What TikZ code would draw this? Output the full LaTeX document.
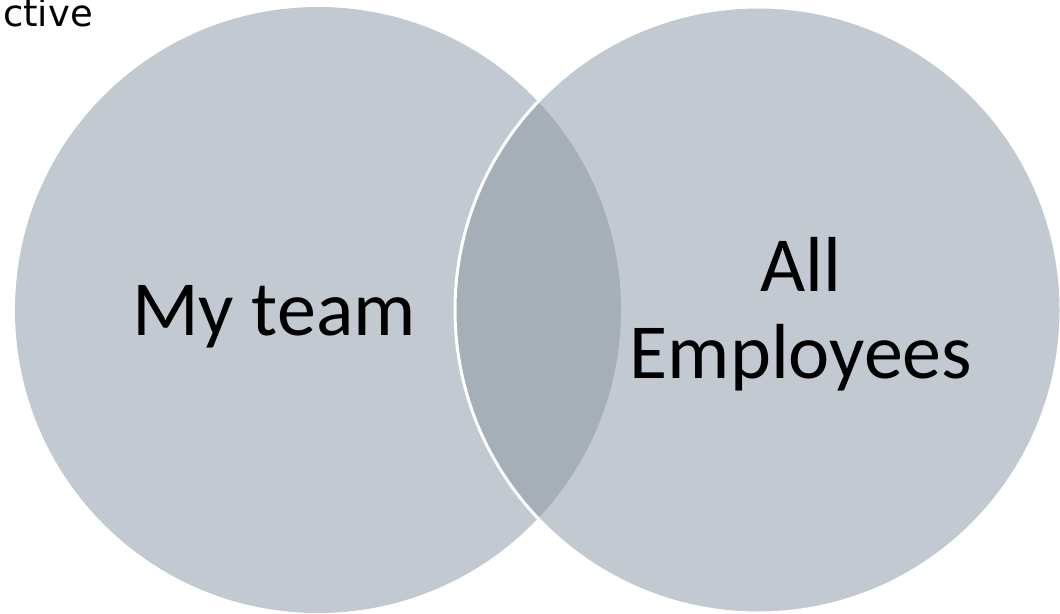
\documentclass[tikz,border=0pt]{standalone}
\usepackage{fontspec}
\setmainfont{Carlito}
\newfontfamily\capfont{DejaVu Sans}
\definecolor{setfill}{HTML}{C2C9D0}
\definecolor{overlapfill}{HTML}{A6AFB7}
\begin{document}
\begin{tikzpicture}[x=1pt,y=-1pt,
  setcircle/.style={circle,fill=setfill,minimum size=606pt,inner sep=0pt,outer sep=0pt},
  bigtext/.style={font=\fontsize{78}{87}\selectfont,align=center,text=black}]
\useasboundingbox (0,0) rectangle (1060,613);
\node[setcircle] (left) at (318,310) {};
\node[setcircle] (right) at (758,310) {};
\begin{scope}
  \clip (758,310) circle[radius=303];
  \fill[overlapfill] (318,310) circle[radius=303];
\end{scope}
\draw[white,line width=3pt] (758,310) circle[radius=303];
\node[bigtext,anchor=base] (lt) at (274,335) {My team};
\node[bigtext,anchor=base] (rt) at (801,378) {All\\Employees};
\node[font=\capfont\fontsize{37}{40}\selectfont,anchor=base east,inner sep=0pt] (cap) at (93,27) {ctive};
\end{tikzpicture}
\end{document}
